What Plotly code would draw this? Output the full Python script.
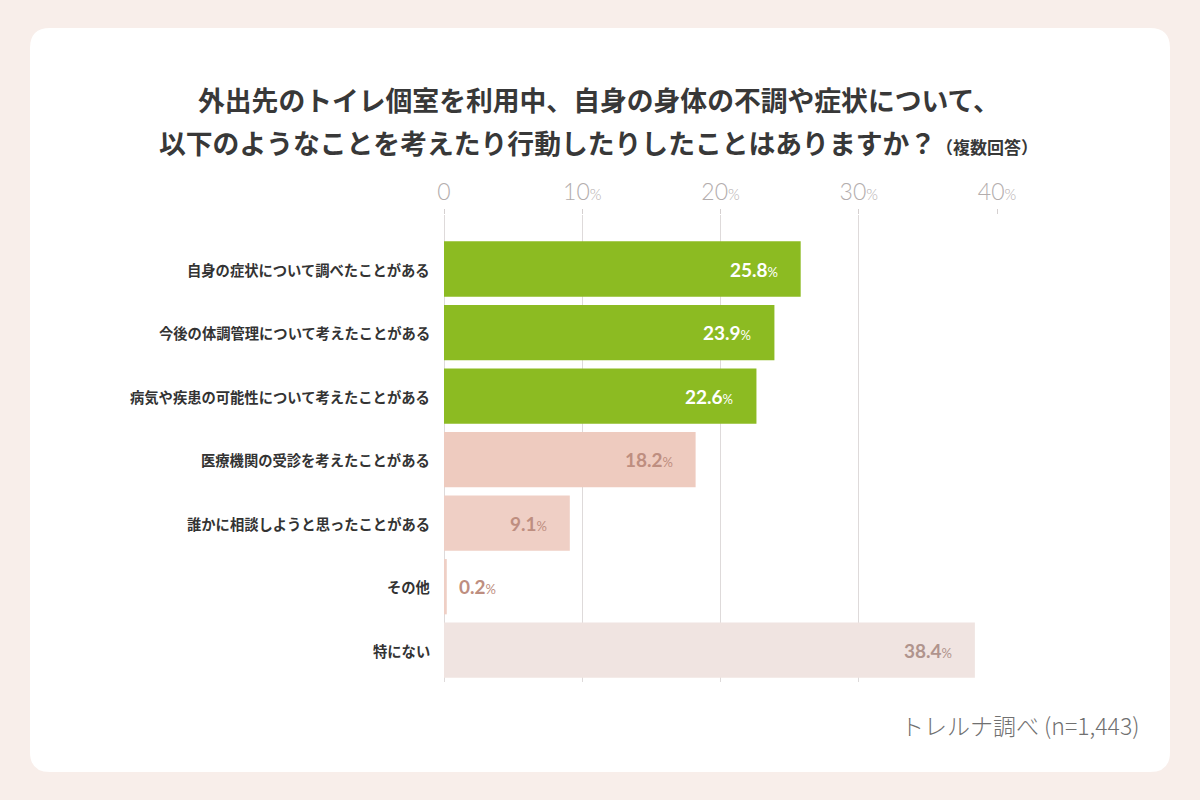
import plotly.graph_objects as go

categories = [
    "自身の症状について調べたことがある",
    "今後の体調管理について考えたことがある",
    "病気や疾患の可能性について考えたことがある",
    "医療機関の受診を考えたことがある",
    "誰かに相談しようと思ったことがある",
    "その他",
    "特にない",
]
values = [25.8, 23.9, 22.6, 18.2, 9.1, 0.2, 38.4]
bar_colors = ["#8CBB22", "#8CBB22", "#8CBB22", "#EECBBF", "#EFCFC5", "#EFCFC5", "#F0E4E1"]
label_colors = ["#FFFFFF", "#FFFFFF", "#FFFFFF", "#BE8E80", "#BE8E80", "#BE8E80", "#B0948D"]
tick_vals = [0, 10, 20, 30, 40]
tick_labels = ["0", "10<span style='font-size:15px'>%</span>", "20<span style='font-size:15px'>%</span>",
               "30<span style='font-size:15px'>%</span>", "40<span style='font-size:15px'>%</span>"]

JP = "Noto Sans CJK JP"
NUM = "Lato"

W, H = 1200, 800
L, R, T, B = 444, 203, 215, 118
PW, PH = W - L - R, H - T - B


def px(x):
    return (x - L) / PW


def py(y):
    return (H - B - y) / PH


fig = go.Figure()
fig.add_trace(go.Bar(
    y=list(range(len(categories))), x=values, orientation="h",
    marker=dict(color=bar_colors, line=dict(width=0)),
    width=0.87, hoverinfo="skip",
))

# value labels
for i, (v, c) in enumerate(zip(values, label_colors)):
    outside = v < 3
    fig.add_annotation(
        x=v, y=i, xref="x", yref="y",
        text=f"<b>{v:.1f}</b><span style='font-size:13px'>%</span>",
        showarrow=False, xanchor="left" if outside else "right", yanchor="middle",
        xshift=10 if outside else -21,
        font=dict(family=NUM, size=19, color=c),
    )

# category labels
for i, cat in enumerate(categories):
    fig.add_annotation(
        x=0, y=i, xref="x", yref="y", text=f"<b>{cat}</b>", showarrow=False,
        xanchor="right", yanchor="middle", xshift=-12,
        font=dict(family=JP, size=14.3, color="#333333"),
    )

# white card with rounded corners
x0, x1, y0, y1 = px(30), px(1170), py(28), py(772)
rx, ry = 20 / PW, 20 / PH
path = (f"M {x0+rx},{y0} L {x1-rx},{y0} Q {x1},{y0} {x1},{y0-ry} "
        f"L {x1},{y1+ry} Q {x1},{y1} {x1-rx},{y1} L {x0+rx},{y1} Q {x0},{y1} {x0},{y1+ry} "
        f"L {x0},{y0-ry} Q {x0},{y0} {x0+rx},{y0} Z")
fig.add_shape(type="path", path=path, xref="paper", yref="paper",
              fillcolor="#FFFFFF", line=dict(width=0), layer="below")

fig.add_annotation(
    x=px(599), y=py(100), xref="paper", yref="paper", xanchor="center", yanchor="middle",
    text="<b>外出先のトイレ個室を利用中、自身の身体の不調や症状について、</b>",
    showarrow=False, font=dict(family=JP, size=26.8, color="#383838"),
)
fig.add_annotation(
    x=px(598), y=py(143), xref="paper", yref="paper", xanchor="center", yanchor="middle",
    text="<b>以下のようなことを考えたり行動したりしたことはありますか？</b><span style='font-size:17px'><b>（複数回答）</b></span>",
    showarrow=False, font=dict(family=JP, size=26.8, color="#383838"),
)
fig.add_annotation(
    x=px(1141), y=py(725), xref="paper", yref="paper", text="トレルナ調べ (n=1,443)",
    showarrow=False, xanchor="right", yanchor="middle",
    font=dict(family=JP, size=23, color="#707070", weight=300),
)

fig.update_layout(
    width=W, height=H,
    margin=dict(l=L, r=R, t=T, b=B),
    paper_bgcolor="#F8EEEA", plot_bgcolor="rgba(0,0,0,0)",
    showlegend=False, bargap=0.13,
    xaxis=dict(
        side="top", range=[0, 40], tickvals=tick_vals, ticktext=tick_labels,
        tickfont=dict(family=NUM, size=23, color="#B3ADAD", weight=300),
        ticks="outside", ticklen=5, tickcolor="#D5D0D0", tickwidth=1,
        showgrid=True, gridcolor="#DEDADA", gridwidth=1,
        zeroline=True, zerolinecolor="#DEDADA", zerolinewidth=1,
        showline=False, fixedrange=True,
    ),
    yaxis=dict(
        range=[6.5, -0.85], showticklabels=False, showgrid=False,
        zeroline=False, showline=False, ticks="",
    ),
)

fig.write_html("out.html")
